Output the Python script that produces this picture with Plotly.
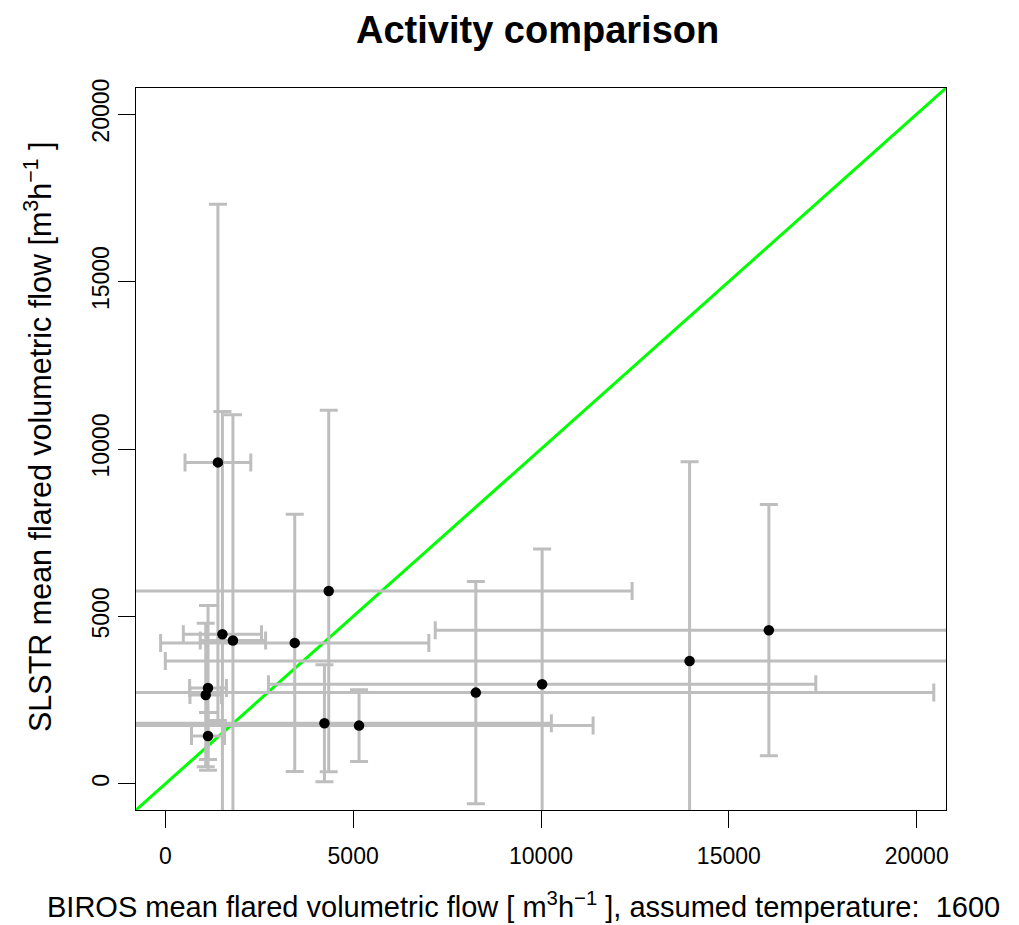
import plotly.graph_objects as go

# Data (BIROS vs SLSTR mean flared volumetric flow)
biros_mean = [1400, 4350, 1520, 1800, 3445, 16065, 13955, 10030, 8265, 1137, 1076, 4236, 5157, 1137]
slstr_mean = [9600, 5760, 4470, 4280, 4210, 4590, 3670, 2975, 2725, 2865, 2655, 1810, 1740, 1430]
biros_sd = [875, 8075, 1040, 870, 3570, 8880, 13955, 7285, 12190, 490, 420, 6040, 6230, 440]
slstr_sd = [7710, 5400, 6650, 6740, 3840, 3750, 5950, 4040, 3315, 2460, 2140, 1750, 1070, 700]

tick_vals = [0, 5000, 10000, 15000, 20000]
tick_text = ["0", "5000", "10000", "15000", "20000"]
axis_range = [-780, 20780]

FONT = "Liberation Sans, Arial, sans-serif"
GRAY = "#BEBEBE"

fig = go.Figure()

# 1:1 line
fig.add_trace(go.Scatter(
    x=axis_range, y=axis_range, mode="lines",
    line=dict(color="#00FF00", width=3), hoverinfo="skip", showlegend=False))

fig.add_trace(go.Scatter(
    x=biros_mean, y=slstr_mean, mode="markers",
    marker=dict(color="black", size=10.5),
    error_x=dict(type="data", array=biros_sd, color=GRAY, thickness=3, width=9),
    error_y=dict(type="data", array=slstr_sd, color=GRAY, thickness=3, width=9),
    showlegend=False))

axis_common = dict(
    range=axis_range, tickvals=tick_vals, ticktext=tick_text,
    ticks="outside", ticklen=17, tickwidth=1, tickcolor="black",
    showline=True, linecolor="black", linewidth=1, mirror=True,
    showgrid=False, zeroline=False,
    tickfont=dict(family=FONT, size=23, color="black"),
)

fig.update_layout(
    width=1019, height=925,
    margin=dict(l=136, r=73, t=88, b=115),
    paper_bgcolor="white", plot_bgcolor="white",
    xaxis=dict(**axis_common, ticklabelstandoff=8),
    yaxis=dict(**axis_common, tickangle=-90),
    font=dict(family=FONT, color="black"),
    annotations=[
        dict(text="<b>Activity comparison</b>", xref="paper", yref="paper",
             x=0.496, y=1, yshift=58, xanchor="center", yanchor="middle", showarrow=False,
             font=dict(family=FONT, size=38, color="black")),
        dict(text="BIROS mean flared volumetric flow [ m<sup>3</sup>h<sup>\u22121</sup> ], assumed temperature:  1600",
             xref="paper", yref="paper", x=0.478, y=0, yshift=-95,
             xanchor="center", yanchor="middle", showarrow=False,
             font=dict(family=FONT, size=29, color="black")),
        dict(text="SLSTR mean flared volumetric flow [m<sup>3</sup>h<sup>\u22121</sup> ]",
             xref="paper", yref="paper", x=0, xshift=-98, y=0.5, yshift=12, textangle=-90,
             xanchor="center", yanchor="middle",
             showarrow=False, font=dict(family=FONT, size=30.5, color="black")),
    ],
)

fig.write_html("out.html")
